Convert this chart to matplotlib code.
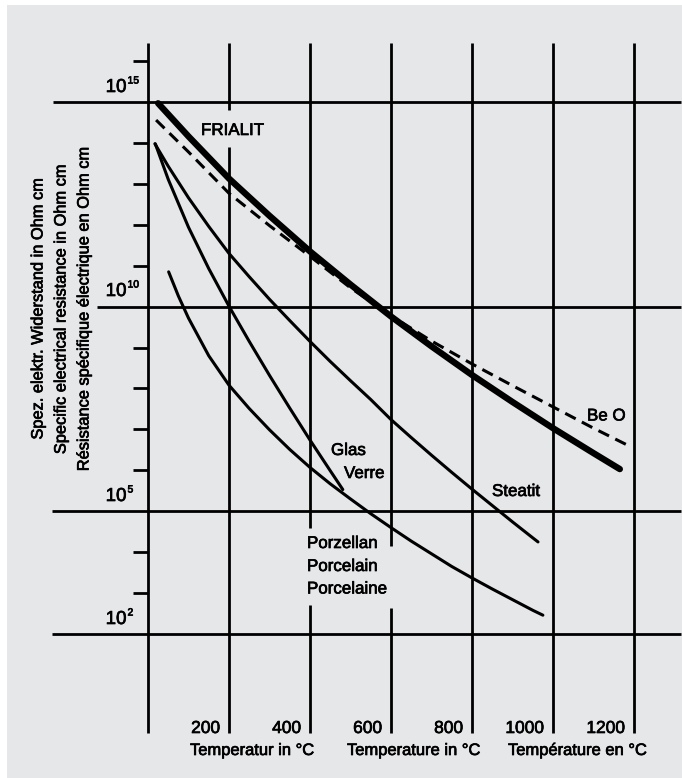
import matplotlib
matplotlib.use("Agg")
import matplotlib.pyplot as plt
import matplotlib.patheffects as pe
import numpy as np
from matplotlib.patches import Rectangle

plt.rcParams['font.family'] = ['Liberation Sans', 'DejaVu Sans']
plt.rcParams['lines.scale_dashes'] = False

# ---------------- data ----------------
grid_temps = [0, 200, 400, 600, 800, 1000, 1200]          # deg C
tick_labels_x = ["200", "400", "600", "800", "1000", "1200"]
major_exps = [15, 10, 5, 2]                                # labelled decades
minor_exps = [3, 4, 6, 7, 8, 9, 11, 12, 13, 14, 16]        # short ticks

# resistivity given as log10(Ohm cm)
frialit_T = [25, 100, 200, 300, 400, 500, 600, 700, 800, 900, 1000, 1100, 1165]
frialit_exp = [14.97, 14.16, 13.13, 12.22, 11.35, 10.54, 9.76, 9.03, 8.33, 7.67, 7.03, 6.42, 6.03]

beo_T = [20, 100, 200, 300, 400, 500, 600, 700, 800, 900, 1000, 1100, 1183]
beo_exp = [14.56, 13.78, 12.77, 11.98, 11.23, 10.46, 9.78, 9.16, 8.60, 8.07, 7.55, 7.03, 6.62]

steatit_T = [17, 50, 100, 150, 200, 250, 300, 350, 400, 450, 500, 550, 600,
             650, 700, 750, 800, 850, 900, 950, 963]
steatit_exp = [13.98, 13.43, 12.66, 11.96, 11.30, 10.73, 10.18, 9.66, 9.15, 8.66, 8.19,
               7.73, 7.24, 6.80, 6.37, 5.95, 5.54, 5.14, 4.74, 4.35, 4.25]

glas_T = [18, 50, 100, 150, 200, 250, 300, 350, 400, 450, 481]
glas_exp = [13.98, 13.11, 11.94, 10.93, 10.01, 9.15, 8.32, 7.52, 6.74, 5.99, 5.53]

porz_T = [51, 75, 100, 150, 200, 250, 300, 350, 400, 450, 500, 550, 600,
          650, 700, 750, 800, 850, 900, 950, 975]
porz_exp = [10.85, 10.26, 9.72, 8.80, 8.08, 7.51, 6.99, 6.51, 6.07, 5.67, 5.30,
            4.94, 4.60, 4.27, 3.96, 3.65, 3.37, 3.10, 2.84, 2.58, 2.46]

# ---------------- figure / layout ----------------
W, H = 682, 778
fig = plt.figure(figsize=(W / 100, H / 100), dpi=100)
fig.patch.set_facecolor('white')
fig.add_artist(Rectangle((7 / W, 0), 1 - 7 / W, 1 - 5 / H, transform=fig.transFigure,
                         facecolor='#e6e7e9', edgecolor='none', zorder=0))

# pixel layout helpers (x0 at 148 px, 81 px per 200 degC; 40.92 px per decade, 1e2 at 634 px)
def X(px):
    return (px - 148) / 0.405

def LY(py):
    return 2 + (634 - py) / 40.92

ax = fig.add_axes([0, 0, 1, 1])
ax.set_facecolor('none')
ax.set_yscale('log')
ax.set_xlim(X(0), X(W))
ax.set_ylim(10 ** LY(H), 10 ** LY(0))
ax.axis('off')

GRID_LW = 2.0
top_exp, bot_exp = LY(43), LY(733)
gaps = {200: (LY(147), LY(110)), 400: (LY(605), LY(528)), 600: (LY(608), LY(546))}
for t in grid_temps:
    if t in gaps:
        lo, hi = gaps[t]
        ax.vlines(t, 10 ** bot_exp, 10 ** lo, color='black', lw=GRID_LW, zorder=2)
        ax.vlines(t, 10 ** hi, 10 ** top_exp, color='black', lw=GRID_LW, zorder=2)
    else:
        ax.vlines(t, 10 ** bot_exp, 10 ** top_exp, color='black', lw=GRID_LW, zorder=2)

hstart = {15: X(53), 10: X(97), 5: X(52), 2: X(52)}
for e in major_exps:
    ax.hlines(10.0 ** e, hstart[e], X(681), color='black', lw=GRID_LW, zorder=2)
for e in minor_exps:
    ax.hlines(10.0 ** e, X(133), 0, color='black', lw=GRID_LW, zorder=2)

# ---------------- curves ----------------
def R(exps):
    return 10.0 ** np.array(exps)

ax.plot(frialit_T, R(frialit_exp), color='black', lw=4.6, solid_capstyle='round',
        solid_joinstyle='round', zorder=4)
ax.plot(beo_T, R(beo_exp), color='black', lw=2.2, dashes=(8.5, 5.0),
        dash_capstyle='butt', zorder=3)
for T, E in [(steatit_T, steatit_exp), (glas_T, glas_exp), (porz_T, porz_exp)]:
    ax.plot(T, R(E), color='black', lw=2.2, solid_capstyle='round',
            solid_joinstyle='round', zorder=3)

# ---------------- texts ----------------
FS = 12.2
BOLDEN = [pe.withStroke(linewidth=0.5, foreground='black')]

def ft(x, y, s, **kw):
    kw.setdefault('fontsize', FS)
    kw.setdefault('va', 'baseline')
    kw.setdefault('path_effects', BOLDEN)
    return fig.text(x / W, 1 - y / H, s, **kw)

# y tick labels 10^n
ypix = {15: 102, 10: 306, 5: 511, 2: 634}
for e in major_exps:
    base_y = ypix[e] - 10
    ft(126.5, base_y, "10", ha='right', fontsize=13.5)
    ft(127.5, base_y - 8.5, str(e), ha='left', fontsize=7.5)

# x tick labels
for t, lab in zip(grid_temps[1:], tick_labels_x):
    ft(148 + 0.405 * t - 9, 733, lab, ha='right', fontsize=12.5)

# axis titles
ft(190, 755, "Temperatur in °C", ha='left', fontsize=11.9)
ft(347, 755, "Temperature in °C", ha='left', fontsize=11.9)
ft(508, 755, "Température en °C", ha='left', fontsize=11.9)

ylab = ["Spez. elektr. Widerstand in Ohm cm",
        "Specific electrical resistance in Ohm cm",
        "Résistance spécifique électrique en Ohm cm"]
for xc, s in zip([38, 61, 84], ylab):
    fig.text(xc / W, 1 - 309 / H, s, rotation=90, ha='center', va='center',
             fontsize=11.8, path_effects=BOLDEN)

# curve labels
ft(201, 135, "FRIALIT")
ft(587, 420.5, "Be O")
ft(492, 496, "Steatit")
ft(331, 455, "Glas")
ft(344, 478, "Verre")
ft(307, 548, "Porzellan")
ft(307, 571, "Porcelain")
ft(307, 593.5, "Porcelaine")

fig.savefig("out.png", dpi=100, facecolor=fig.get_facecolor())
